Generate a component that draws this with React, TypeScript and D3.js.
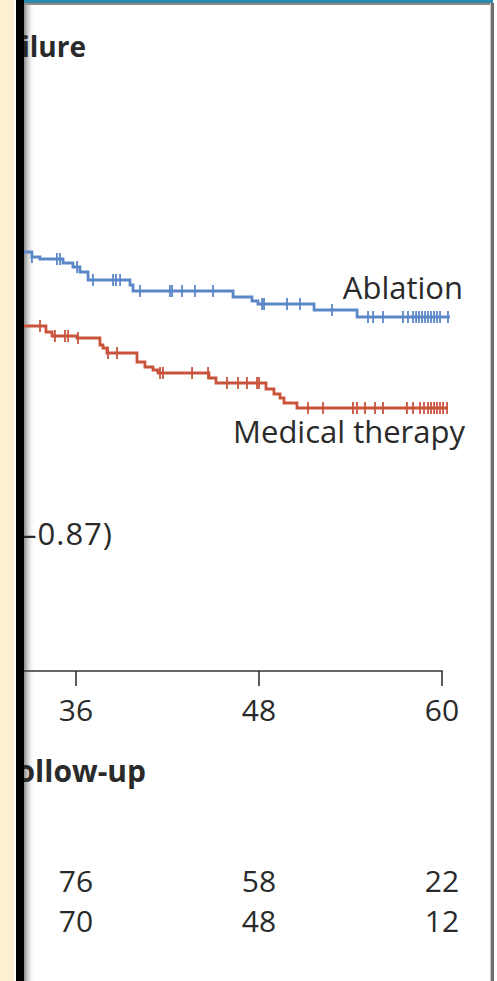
import React from "react";
import * as d3 from "d3";

// x ticks and numbers at risk
const tickMonths = [36, 48, 60];
const riskAblation = [76, 58, 22];
const riskMedical = [70, 48, 12];

// Kaplan-Meier steps: month, event-free %
const ablationTimes = [32.0, 33.11, 33.64, 35.15, 35.8, 36.26, 36.79, 39.54, 39.74, 46.3, 47.54, 47.93, 51.61, 54.43];
const ablationPct = [83.8, 82.8, 82.4, 81.6, 80.8, 79.8, 78.2, 77.2, 76.0, 74.8, 74.0, 73.4, 72.2, 70.8];
const ablationEnd = 60.52;
const ablationCensor = [
  33.11, 34.75, 34.95, 36.07, 37.11, 38.43, 38.62, 38.89, 40.2, 42.16, 42.3, 42.95, 43.8, 44.98,
  48.2, 48.33, 49.84, 50.69, 52.79, 55.15, 55.48, 56.13, 57.44, 57.77, 58.1, 58.3, 58.49, 58.69,
  58.89, 59.08, 59.28, 59.48, 59.67, 59.87, 60.39,
];

const medicalTimes = [32.0, 34.03, 34.43, 36.07, 37.57, 37.77, 38.03, 40.0, 40.52, 41.05, 41.38, 44.72, 45.18, 48.46, 48.98, 49.38, 49.64, 50.49];
const medicalPct = [69.0, 67.8, 67.0, 66.6, 65.2, 64.6, 63.6, 61.8, 60.8, 60.2, 59.6, 58.6, 57.6, 56.4, 55.4, 54.6, 53.6, 52.6];
const medicalEnd = 60.39;
const medicalCensor = [
  33.64, 34.62, 35.28, 35.48, 36.13, 38.1, 38.69, 41.51, 41.7, 43.61, 44.66, 45.9, 46.62, 47.21,
  47.87, 48.0, 51.21, 52.2, 54.16, 54.43, 54.95, 55.61, 56.13, 57.7, 58.1, 58.56, 58.82, 59.08,
  59.28, 59.48, 59.67, 59.87, 60.07, 60.33,
];

const W = 497;
const H = 981;
const BLUE = "#5b87c8";
const RED = "#c9543b";
const INK = "#2a2a2a";
const FONT = "'Open Sans', sans-serif";

const x = d3.scaleLinear().domain([0, 60]).range([-473, 442]);
const y = d3.scaleLinear().domain([0, 100]).range([671, 171]);

function stepAt(times: number[], pct: number[], t: number) {
  let v = pct[0];
  for (let i = 0; i < times.length; i++) if (times[i] <= t) v = pct[i];
  return v;
}

const Curve = ({ times, pct, end, censor, color }: any) => {
  const pts: [number, number][] = times.map((t: number, i: number) => [t, pct[i]]);
  pts.push([end, pct[pct.length - 1]]);
  const line = d3
    .line<[number, number]>()
    .x((d) => x(d[0]))
    .y((d) => y(d[1]))
    .curve(d3.curveStepAfter);
  return (
    <g>
      <path d={line(pts) || ""} fill="none" stroke={color} strokeWidth={2.8} />
      {censor.map((t: number, i: number) => {
        const cy = y(stepAt(times, pct, t));
        return <line key={i} x1={x(t)} x2={x(t)} y1={cy - 6} y2={cy + 6} stroke={color} strokeWidth={1.8} />;
      })}
    </g>
  );
};

export default function App() {
  return (
    <div style={{ position: "fixed", left: 0, top: 0 }}>
      <svg width={W} height={H} style={{ display: "block" }}>
        <defs>
          <linearGradient id="shade" x1="0" x2="1" y1="0" y2="0">
            <stop offset="0" stopColor="#8a8a8a" />
            <stop offset="1" stopColor="#ffffff" stopOpacity={0} />
          </linearGradient>
          <clipPath id="panel">
            <rect x={24} y={5} width={466} height={H} />
          </clipPath>
        </defs>
        <rect width={W} height={H} fill="#ffffff" />
        <rect x={0} y={0} width={14} height={H} fill="#fdf0d0" />
        <rect x={16} y={0} width={8} height={H} fill="#000" />
        <rect x={24} y={0} width={469} height={3} fill="#2b8aa9" />
        <rect x={24} y={3} width={469} height={2} fill="#8a8a8a" />
        <rect x={490} y={3} width={1} height={H} fill="#c8c8c8" />
        <rect x={491} y={3} width={3} height={H} fill="#6e6e6e" />
        <rect x={24} y={5} width={11} height={H} fill="url(#shade)" />

        <g clipPath="url(#panel)" fontFamily={FONT} fill={INK}>
          <text x={86} y={57} textAnchor="end" fontSize={28} fontWeight={700}>
            Hospitalization for Worsening Heart Failure
          </text>
          <text x={113} y={545} textAnchor="end" fontSize={31} letterSpacing={1}>
            Hazard ratio, 0.62 (95% CI, 0.43–0.87)
          </text>

          <Curve times={ablationTimes} pct={ablationPct} end={ablationEnd} censor={ablationCensor} color={BLUE} />
          <Curve times={medicalTimes} pct={medicalPct} end={medicalEnd} censor={medicalCensor} color={RED} />

          <text x={463} y={299} textAnchor="end" fontSize={31}>Ablation</text>
          <text x={465} y={443} textAnchor="end" fontSize={31}>Medical therapy</text>

          <line x1={0} x2={x(60) + 0.75} y1={671} y2={671} stroke="#333" strokeWidth={1.6} />
          {tickMonths.map((m) => (
            <g key={m}>
              <line x1={x(m)} x2={x(m)} y1={671} y2={686} stroke="#333" strokeWidth={1.6} />
              <text x={x(m)} y={721} textAnchor="middle" fontSize={30}>{m}</text>
            </g>
          ))}

          <text x={146} y={782} textAnchor="end" fontSize={30} fontWeight={700}>
            Months since Follow-up
          </text>

          {tickMonths.map((m, i) => (
            <g key={"r" + m}>
              <text x={x(m)} y={892} textAnchor="middle" fontSize={30}>{riskAblation[i]}</text>
              <text x={x(m)} y={932} textAnchor="middle" fontSize={30}>{riskMedical[i]}</text>
            </g>
          ))}
        </g>
      </svg>
    </div>
  );
}
